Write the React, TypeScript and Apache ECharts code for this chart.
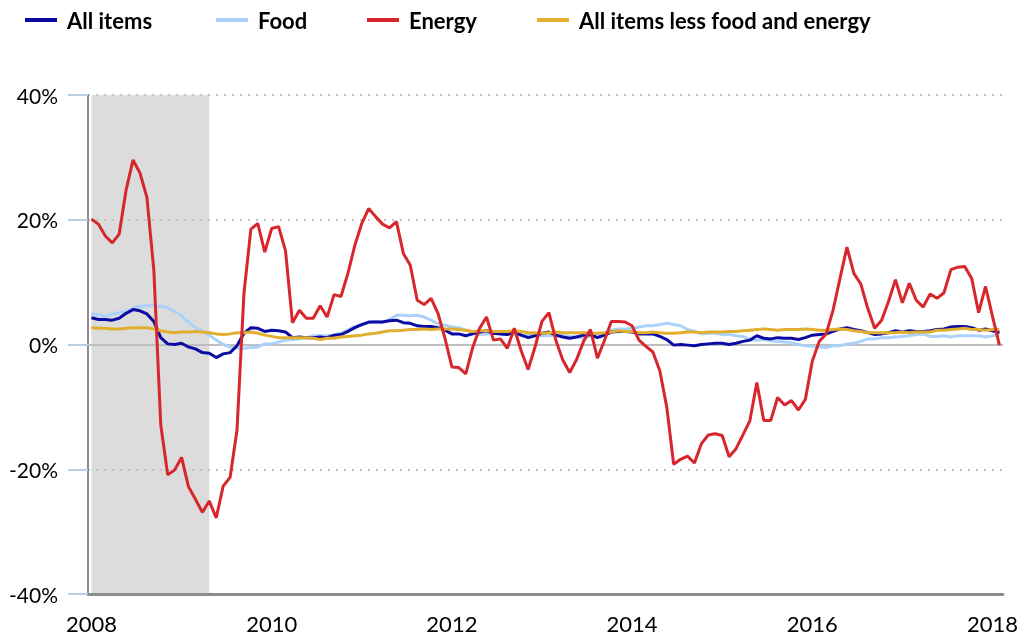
import React, { useEffect, useRef } from "react";
import * as echarts from "echarts";

const years = [2008, 2009, 2010, 2011, 2012, 2013, 2014, 2015, 2016, 2017, 2018];
const months: string[] = [];
years.forEach((y) => {
  for (let m = 1; m <= 12; m++) months.push(`${y}-${m}`);
});

const xTickLabels = ["2008", "2010", "2012", "2014", "2016", "2018"];
const xTickEvery = 26;

const seriesNames = ["All items", "Food", "Energy", "All items less food and energy"];
const seriesColors = ["#0b0ba3", "#abd2fb", "#d8262d", "#e2ae2f"];

const allItems = [
  4.3, 4.0, 4.0, 3.9, 4.2, 5.0, 5.6, 5.4, 4.9, 3.7, 1.1, 0.1,
  0.0, 0.2, -0.4, -0.7, -1.3, -1.4, -2.1, -1.5, -1.3, -0.2, 1.8, 2.7,
  2.6, 2.1, 2.3, 2.2, 2.0, 1.1, 1.2, 1.1, 1.1, 1.2, 1.1, 1.5,
  1.6, 2.1, 2.7, 3.2, 3.6, 3.6, 3.6, 3.8, 3.9, 3.5, 3.4, 3.0,
  2.9, 2.9, 2.7, 2.3, 1.7, 1.7, 1.4, 1.7, 2.0, 2.2, 1.8, 1.7,
  1.6, 2.0, 1.5, 1.1, 1.4, 1.8, 2.0, 1.5, 1.2, 1.0, 1.2, 1.5,
  1.6, 1.1, 1.5, 2.0, 2.1, 2.1, 2.0, 1.7, 1.7, 1.7, 1.3, 0.8,
  -0.1, 0.0, -0.1, -0.2, 0.0, 0.1, 0.2, 0.2, 0.0, 0.2, 0.5, 0.7,
  1.4, 1.0, 0.9, 1.1, 1.0, 1.0, 0.8, 1.1, 1.5, 1.6, 1.7, 2.1,
  2.5, 2.7, 2.4, 2.2, 1.9, 1.6, 1.7, 1.9, 2.2, 2.0, 2.2, 2.1,
  2.1, 2.2, 2.4, 2.5, 2.8, 2.9, 2.9, 2.7, 2.3, 2.5, 2.2, 1.9,
];

const food = [
  4.9, 4.8, 4.5, 4.9, 5.1, 5.3, 5.8, 6.1, 6.2, 6.3, 6.1, 5.9,
  5.3, 4.6, 3.6, 2.7, 2.1, 1.5, 0.7, 0.0, -0.4, -0.6, -0.6, -0.5,
  -0.4, 0.1, 0.1, 0.4, 0.7, 0.8, 0.9, 1.1, 1.4, 1.4, 1.4, 1.5,
  1.8, 2.3, 2.9, 3.2, 3.5, 3.7, 3.6, 4.0, 4.7, 4.7, 4.6, 4.7,
  4.4, 3.9, 3.3, 3.1, 2.8, 2.7, 2.3, 2.0, 1.6, 1.7, 1.8, 1.8,
  1.6, 1.6, 1.5, 1.5, 1.4, 1.4, 1.4, 1.4, 1.5, 1.3, 1.2, 1.1,
  1.4, 1.4, 1.7, 2.3, 2.5, 2.5, 2.6, 2.8, 3.0, 3.0, 3.2, 3.4,
  3.2, 3.0, 2.4, 2.1, 1.7, 1.8, 1.8, 1.6, 1.6, 1.4, 1.3, 0.8,
  0.7, 0.8, 0.6, 0.5, 0.4, 0.3, 0.0, -0.2, -0.3, -0.4, -0.5, -0.2,
  -0.2, 0.1, 0.2, 0.5, 0.9, 0.9, 1.1, 1.1, 1.2, 1.3, 1.4, 1.6,
  1.7, 1.3, 1.3, 1.4, 1.2, 1.4, 1.4, 1.4, 1.4, 1.2, 1.4, 1.6,
];

const energy = [
  20.1, 19.3, 17.4, 16.3, 17.7, 24.8, 29.6, 27.5, 23.6, 11.9, -12.9, -20.9,
  -20.1, -18.1, -22.8, -24.8, -26.9, -25.1, -27.8, -22.7, -21.3, -13.7, 8.2, 18.5,
  19.4, 14.8, 18.6, 18.9, 15.0, 3.5, 5.5, 4.2, 4.2, 6.2, 4.4, 8.0,
  7.7, 11.4, 15.9, 19.4, 21.8, 20.5, 19.3, 18.7, 19.7, 14.6, 12.7, 7.1,
  6.4, 7.4, 5.0, 1.0, -3.6, -3.7, -4.7, -0.5, 2.6, 4.4, 0.7, 0.9,
  -0.6, 2.6, -1.0, -4.0, -0.4, 3.7, 5.1, 0.7, -2.5, -4.5, -2.4, 0.5,
  2.4, -2.2, 0.6, 3.7, 3.7, 3.6, 3.0, 0.7, -0.3, -1.2, -4.2, -10.0,
  -19.2, -18.4, -17.9, -19.0, -15.9, -14.5, -14.3, -14.6, -18.0, -16.7, -14.5, -12.2,
  -6.1, -12.2, -12.2, -8.5, -9.7, -9.0, -10.5, -8.8, -2.7, 0.5, 1.7, 5.5,
  10.6, 15.6, 11.4, 9.7, 5.8, 2.6, 3.9, 6.9, 10.4, 6.7, 9.8, 7.1,
  6.0, 8.1, 7.4, 8.3, 12.0, 12.4, 12.5, 10.6, 5.1, 9.3, 4.5, -0.1,
];

const core = [
  2.7, 2.6, 2.6, 2.5, 2.5, 2.6, 2.7, 2.7, 2.7, 2.5, 2.2, 2.0,
  1.9, 2.0, 2.0, 2.1, 2.0, 1.9, 1.7, 1.6, 1.7, 1.9, 1.9, 2.0,
  1.8, 1.5, 1.3, 1.1, 1.1, 1.1, 1.1, 1.1, 1.0, 0.8, 1.0, 1.0,
  1.2, 1.3, 1.4, 1.5, 1.7, 1.8, 2.0, 2.2, 2.2, 2.3, 2.4, 2.4,
  2.5, 2.4, 2.5, 2.5, 2.5, 2.4, 2.3, 2.1, 2.2, 2.2, 2.1, 2.1,
  2.1, 2.2, 2.1, 1.9, 1.9, 1.8, 1.9, 2.0, 1.9, 1.9, 1.9, 1.9,
  1.8, 1.8, 1.9, 2.0, 2.2, 2.1, 2.1, 1.9, 1.9, 2.0, 1.9, 1.8,
  1.8, 1.9, 2.0, 2.0, 1.9, 2.0, 2.0, 2.0, 2.1, 2.1, 2.2, 2.3,
  2.4, 2.5, 2.4, 2.3, 2.4, 2.4, 2.4, 2.5, 2.4, 2.3, 2.3, 2.4,
  2.5, 2.4, 2.2, 2.1, 1.9, 1.9, 1.9, 1.9, 1.9, 2.0, 1.9, 2.0,
  2.0, 2.0, 2.3, 2.3, 2.4, 2.5, 2.6, 2.4, 2.4, 2.3, 2.4, 2.4,
];

const recessionStart = "2008-1";
const recessionEnd = "2009-6";

const legendLeft = [20, 211, 362, 532];
const FONT = "Lato, 'Open Sans', sans-serif";

export default function App() {
  const ref = useRef<HTMLDivElement>(null);

  useEffect(() => {
    if (!ref.current) return;
    const chart = echarts.init(ref.current, undefined, { renderer: "svg" });

    const valuesByName: Record<string, number[]> = {
      "All items": allItems,
      Food: food,
      Energy: energy,
      "All items less food and energy": core,
    };
    const drawOrder = ["Food", "All items", "All items less food and energy", "Energy"];

    const series: any[] = drawOrder.map((name) => {
      const idx = seriesNames.indexOf(name);
      const s: any = {
        name,
        type: "line",
        data: valuesByName[name],
        showSymbol: false,
        symbol: "none",
        lineStyle: { width: 3, color: seriesColors[idx] },
        itemStyle: { color: seriesColors[idx] },
        z: 2,
      };
      if (name === "Food") {
        s.markArea = {
          silent: true,
          z: -1,
          itemStyle: { color: "#dcdcdc" },
          data: [[{ xAxis: recessionStart }, { xAxis: recessionEnd }]],
        };
        s.markLine = {
          silent: true,
          z: 1,
          symbol: ["none", "none"],
          label: { show: false },
          lineStyle: { color: "#bfbfbf", type: "solid", width: 2 },
          data: [{ yAxis: 0 }],
        };
      }
      return s;
    });

    chart.setOption({
      animation: false,
      grid: { left: 88, right: 15, top: 95, bottom: 41, containLabel: false },
      legend: seriesNames.map((name, i) => ({
        data: [name],
        left: legendLeft[i],
        top: 4,
        icon: "rect",
        itemWidth: 32,
        itemHeight: 4,
        selectedMode: false,
        textStyle: {
          fontFamily: FONT,
          fontWeight: "bold",
          fontSize: 22,
          color: "#000",
          padding: [0, 0, 0, 5],
        },
      })),
      xAxis: {
        type: "category",
        data: months,
        boundaryGap: true,
        axisLine: { onZero: false, lineStyle: { color: "#8c8c8c", width: 3 } },
        axisTick: {
          alignWithLabel: true,
          interval: xTickEvery - 1,
          length: 10,
          lineStyle: { color: "#b9cde5", width: 2 },
        },
        axisLabel: {
          interval: xTickEvery - 1,
          margin: 18,
          fontFamily: FONT,
          fontSize: 22,
          color: "#000",
          formatter: (_v: string, i: number) => xTickLabels[Math.round(i / xTickEvery)] ?? "",
        },
        splitLine: { show: false },
      },
      yAxis: {
        type: "value",
        min: -40,
        max: 40,
        interval: 20,
        axisLine: { show: true, lineStyle: { color: "#8c8c8c", width: 2 } },
        axisTick: { show: true, length: 20, lineStyle: { color: "#b9cde5", width: 2 } },
        axisLabel: {
          formatter: "{value}%",
          margin: 30,
          fontFamily: FONT,
          fontSize: 21,
          color: "#000",
        },
        splitLine: {
          show: true,
          lineStyle: { color: "#c3c3c3", width: 2, type: [2, 6] },
        },
      },
      series,
    });

    return () => chart.dispose();
  }, []);

  return (
    <div
      ref={ref}
      style={{ position: "fixed", left: 0, top: 0, width: 1021, height: 635 }}
    />
  );
}
